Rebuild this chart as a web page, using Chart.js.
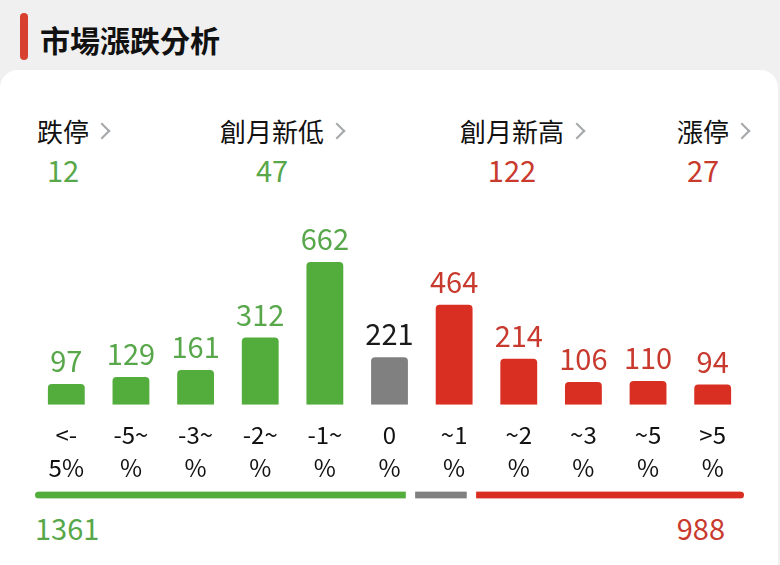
<!DOCTYPE html>
<html>
<head>
<meta charset="utf-8">
<script src="https://cdn.jsdelivr.net/npm/chart.js@4"></script>
<style>
  html, body { margin: 0; padding: 0; }
  body {
    width: 780px; height: 565px; overflow: hidden; position: relative;
    background: #f0f0f0;
    font-family: "Noto Sans CJK TC", "Noto Sans", sans-serif;
  }
  .marker { position: absolute; left: 20px; top: 13px; width: 8px; height: 47px; background: #d9412f; border-radius: 4px; }
  .title { position: absolute; left: 40px; top: 18px; font-size: 30px; font-weight: bold; color: #111; line-height: 42px; }
  .card { position: absolute; left: 0; top: 70px; width: 778px; height: 500px; background: #fff; border-radius: 18px 18px 0 0; }
  .stat { position: absolute; top: 113px; }
  .stat .lab { font-size: 26px; line-height: 36px; color: #111; white-space: nowrap; }
  .stat .arr { position: absolute; top: 12px; right: -19px; width: 10px; height: 10px;
    border-top: 2.5px solid #a5a8aa; border-right: 2.5px solid #a5a8aa; transform: rotate(45deg); }
  .stat .val { font-size: 29px; line-height: 40px; text-align: center; }
  .total { position: absolute; top: 507px; font-size: 29px; line-height: 40px; }
  #bars { position: absolute; left: 0; top: 200px; }
  #sum { position: absolute; left: 0; top: 485px; }
</style>
</head>
<body>
<div class="marker"></div>
<div class="title">市場漲跌分析</div>
<div class="card"></div>
<div id="stats"></div>
<canvas id="bars" width="780" height="298"></canvas>
<canvas id="sum" width="780" height="20"></canvas>
<div class="total" id="downTotal" style="left:35px;color:#58a74a"></div>
<div class="total" id="upTotal" style="right:55px;color:#c8392e"></div>
<script>
const categories = [['<-', '5%'], ['-5~', '%'], ['-3~', '%'], ['-2~', '%'], ['-1~', '%'], ['0', '%'],
                    ['~1', '%'], ['~2', '%'], ['~3', '%'], ['~5', '%'], ['>5', '%']];
const values = [97, 129, 161, 312, 662, 221, 464, 214, 106, 110, 94];
const groups = ['down', 'down', 'down', 'down', 'down', 'flat', 'up', 'up', 'up', 'up', 'up'];

const statLabels = ['跌停', '創月新低', '創月新高', '漲停'];
const statValues = [12, 47, 122, 27];
const statGroups = ['down', 'down', 'up', 'up'];

const GREEN = '#53ad3d', GRAY = '#808080', RED = '#d92f22';
const barColors = { down: GREEN, flat: GRAY, up: RED };
const textColors = { down: '#58a74a', flat: '#1a1a1a', up: '#c8392e' };
const FONT = '"Noto Sans CJK TC", "Noto Sans", sans-serif';

// top stats row
const statLeft = [37, 220, 460, 677];
const statsBox = document.getElementById('stats');
statLabels.forEach((lab, i) => {
  const d = document.createElement('div');
  d.className = 'stat';
  d.style.left = statLeft[i] + 'px';
  d.innerHTML = '<div class="lab">' + lab + '</div><span class="arr"></span>' +
    '<div class="val" style="color:' + textColors[statGroups[i]] + '">' + statValues[i] + '</div>';
  statsBox.appendChild(d);
});

const valueLabels = {
  id: 'valueLabels',
  afterDatasetsDraw(chart) {
    const ctx = chart.ctx;
    const meta = chart.getDatasetMeta(0);
    ctx.save();
    ctx.font = '29px ' + FONT;
    ctx.textAlign = 'center';
    ctx.textBaseline = 'alphabetic';
    meta.data.forEach((bar, i) => {
      ctx.fillStyle = textColors[groups[i]];
      ctx.fillText(values[i], bar.x, bar.y - 12);
    });
    ctx.restore();
  }
};

new Chart(document.getElementById('bars'), {
  type: 'bar',
  data: {
    labels: categories,
    datasets: [{
      data: values,
      backgroundColor: groups.map(g => barColors[g]),
      borderRadius: 4,
      barPercentage: 0.57,
      categoryPercentage: 1
    }]
  },
  options: {
    responsive: false,
    animation: false,
    layout: { padding: { left: 34, right: 35, top: 15, bottom: 0 } },
    plugins: { legend: { display: false }, tooltip: { enabled: false } },
    scales: {
      x: {
        grid: { display: false, drawTicks: false },
        border: { display: false },
        ticks: { color: '#111', font: { family: FONT, size: 24, lineHeight: 1.4 }, padding: 13, maxRotation: 0, autoSkip: false }
      },
      y: { display: false, min: 0, max: 880 }
    }
  },
  plugins: [valueLabels]
});

// summary bar: totals by group
const sumOf = g => values.filter((v, i) => groups[i] === g).reduce((a, b) => a + b, 0);
const totals = { down: sumOf('down'), flat: sumOf('flat'), up: sumOf('up') };
document.getElementById('downTotal').textContent = totals.down;
document.getElementById('upTotal').textContent = totals.up;

new Chart(document.getElementById('sum'), {
  type: 'bar',
  data: {
    labels: [''],
    datasets: [
      { data: [totals.down], backgroundColor: GREEN, borderColor: '#fff',
        borderWidth: { right: 5 }, borderRadius: { topLeft: 4, bottomLeft: 4 } },
      { data: [totals.flat], backgroundColor: GRAY, borderColor: '#fff',
        borderWidth: { left: 5, right: 5 }, borderRadius: 0 },
      { data: [totals.up], backgroundColor: RED, borderColor: '#fff',
        borderWidth: { left: 5 }, borderRadius: { topRight: 4, bottomRight: 4 } }
    ]
  },
  options: {
    indexAxis: 'y',
    responsive: false,
    animation: false,
    layout: { padding: { left: 35, right: 36, top: 0, bottom: 0 } },
    datasets: { bar: { barThickness: 7, borderSkipped: false } },
    plugins: { legend: { display: false }, tooltip: { enabled: false } },
    scales: {
      x: { display: false, stacked: true, min: 0, max: totals.down + totals.flat + totals.up },
      y: { display: false, stacked: true }
    }
  }
});
</script>
</body>
</html>
